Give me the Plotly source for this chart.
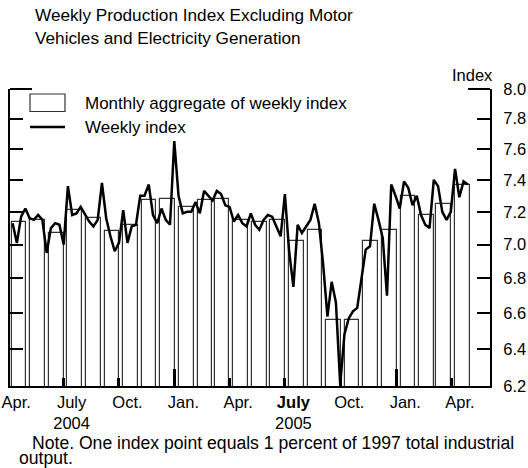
import plotly.graph_objects as go
import pandas as pd

# ---------------- data ----------------
month_starts = pd.date_range("2004-04-01", "2006-04-01", freq="MS")
monthly_aggregate = [7.14, 7.15, 7.07, 7.21, 7.16, 7.08, 7.12, 7.27, 7.28,
                     7.23, 7.27, 7.28, 7.15, 7.14, 7.15, 7.02, 7.09, 6.56,
                     6.56, 7.02, 7.09, 7.30, 7.18, 7.25, 7.37]

week_dates = pd.date_range("2004-04-09", periods=108, freq="7D")
weekly_index = [
    7.13, 7.01, 7.17, 7.22, 7.16, 7.15, 7.18, 7.15, 6.95, 7.10,
    7.13, 7.12, 7.00, 7.36, 7.18, 7.19, 7.23, 7.18, 7.14, 7.11,
    7.15, 7.38, 7.16, 7.05, 6.96, 7.01, 7.21, 7.01, 7.11, 7.12,
    7.30, 7.30, 7.37, 7.18, 7.13, 7.22, 7.15, 7.12, 7.65, 7.30,
    7.19, 7.20, 7.20, 7.26, 7.19, 7.33, 7.30, 7.27, 7.33, 7.31,
    7.24, 7.23, 7.14, 7.18, 7.13, 7.11, 7.19, 7.12, 7.09, 7.15,
    7.18, 7.17, 7.11, 7.05, 7.31, 6.96, 6.75, 7.12, 7.07, 7.11,
    7.15, 7.25, 7.13, 6.88, 6.58, 6.78, 6.66, 6.21, 6.48, 6.57,
    6.61, 6.63, 6.79, 6.97, 6.99, 7.25, 7.15, 7.04, 6.70, 7.37,
    7.30, 7.22, 7.39, 7.35, 7.24, 7.30, 7.18, 7.12, 7.10, 7.40,
    7.36, 7.20, 7.15, 7.20, 7.47, 7.29, 7.39, 7.37]

y_ticks = [6.2, 6.4, 6.6, 6.8, 7.0, 7.2, 7.4, 7.6, 7.8, 8.0]
label_months = pd.date_range("2004-04-01", "2006-04-01", freq="QS-JAN")
label_text = ["Apr.", "July<br>2004", "Oct.", "Jan.", "Apr.",
              "<b>July</b><br>2005", "Oct.", "Jan.", "Apr."]
quarter_starts = pd.date_range("2004-07-01", "2006-04-01", freq="QS-JAN")
year_starts = pd.to_datetime(["2005-01-01", "2006-01-01"])

# ---------------- layout helpers ----------------
W, H = 528, 468
L, R, T, B = 10, 38, 89, 82
PW, PH = W - L - R, H - T - B
FONT = "Liberation Sans, Arial, sans-serif"


def px(x):
    return (x - L) / PW


def py(y):
    return (H - B - y) / PH


x_range = ["2004-04-04 17:00", "2006-06-03 12:00"]
day_ms = 86400000

fig = go.Figure()
fig.add_trace(go.Bar(
    x=month_starts + pd.Timedelta(days=18, hours=12),
    y=monthly_aggregate,
    width=24.5 * day_ms,
    marker=dict(color="white", line=dict(color="#333333", width=1.2)),
    name="Monthly aggregate of weekly index",
    showlegend=False,
))
fig.add_trace(go.Scatter(
    x=week_dates, y=weekly_index, mode="lines",
    line=dict(color="black", width=2.5),
    name="Weekly index", xaxis="x2", showlegend=False,
))

fig.update_layout(
    width=W, height=H,
    margin=dict(l=L, r=R, t=T, b=B, autoexpand=False),
    paper_bgcolor="white", plot_bgcolor="white",
    font=dict(family=FONT, size=17, color="black"),
    bargap=0,
    xaxis=dict(
        type="date", range=x_range, automargin=False,
        tickmode="array", tickvals=label_months + pd.Timedelta(days=14),
        ticktext=label_text, ticks="", showgrid=False, zeroline=False,
        showline=True, linewidth=2, linecolor="black",
        tickfont=dict(size=16.5),
        minor=dict(tickmode="array", tickvals=quarter_starts,
                   ticks="inside", ticklen=8, tickwidth=2.5,
                   tickcolor="black", showgrid=False),
    ),
    xaxis2=dict(
        type="date", range=x_range, overlaying="x", anchor="y",
        automargin=False,
        tickmode="array", tickvals=year_starts, ticks="inside",
        ticklen=17, tickwidth=2.5, tickcolor="black",
        showticklabels=False, showgrid=False, showline=False,
        zeroline=False,
    ),
    yaxis=dict(
        type="log", range=[0.792392, 0.90309], side="right",
        automargin=False,
        tickmode="array", tickvals=y_ticks,
        ticktext=[f"{v:.1f}" for v in y_ticks],
        ticks="inside", ticklen=13, tickwidth=2, tickcolor="black",
        showline=True, linewidth=2, linecolor="black", mirror="ticks",
        showgrid=False, zeroline=False, tickfont=dict(size=16.5),
        ticklabelstandoff=8,
    ),
)

shapes = [
    # longer top ticks
    dict(type="line", xref="paper", yref="paper", x0=0, x1=px(32), y0=1, y1=1,
         line=dict(color="black", width=2)),
    dict(type="line", xref="paper", yref="paper", x0=px(468), x1=1, y0=1, y1=1,
         line=dict(color="black", width=2)),
    # legend keys
    dict(type="rect", xref="paper", yref="paper", x0=px(30), x1=px(65),
         y0=py(111.5), y1=py(94), fillcolor="white",
         line=dict(color="#333333", width=1.2)),
    dict(type="line", xref="paper", yref="paper", x0=px(30), x1=px(65),
         y0=py(127), y1=py(127), line=dict(color="black", width=2.5)),
]
fig.update_layout(shapes=shapes)

ann = [
    dict(text="Weekly Production Index Excluding Motor", x=px(33), y=py(15), s=17.2),
    dict(text="Vehicles and Electricity Generation", x=px(33), y=py(38), s=17.2),
    dict(text="Monthly aggregate of weekly index", x=px(83), y=py(103), s=17),
    dict(text="Weekly index", x=px(83), y=py(127), s=17),
    dict(text="Note. One index point equals 1 percent of 1997 total industrial",
         x=px(30), y=py(443), s=17.6),
    dict(text="output.", x=px(17), y=py(458), s=17.6),
]
annotations = []
for a in ann:
    s = a.pop("s")
    a.update(xref="paper", yref="paper", xanchor="left", yanchor="middle",
             showarrow=False, font=dict(size=s))
    annotations.append(a)
annotations.append(dict(text="Index", x=px(472), y=py(75), xref="paper",
                        yref="paper", xanchor="center", yanchor="middle",
                        showarrow=False, font=dict(size=16.5)))
fig.update_layout(annotations=annotations)

# the page body has a default 8px margin; remove it so the figure fills the window
fig.write_html("out.html", config={"displayModeBar": False},
               post_script="document.body.style.margin='0';")
